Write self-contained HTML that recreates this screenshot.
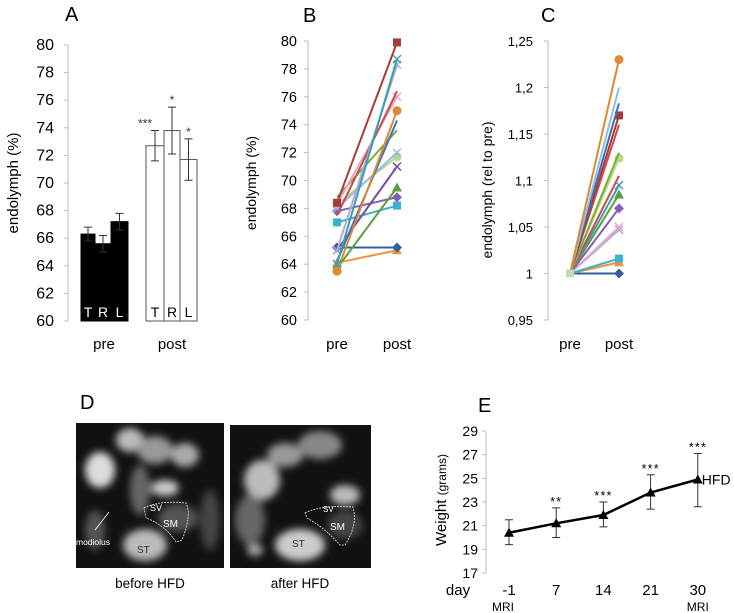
<!DOCTYPE html>
<html><head><meta charset="utf-8"><style>
body{margin:0;background:#fff;}
svg{display:block;font-family:"Liberation Sans",sans-serif;}
</style></head><body>
<svg id="fig" width="734" height="613" viewBox="0 0 734 613">
<defs>
<filter id="blur" x="-20%" y="-20%" width="140%" height="140%"><feGaussianBlur stdDeviation="4"/></filter>
<clipPath id="c1"><rect x="76" y="423" width="148" height="145"/></clipPath>
<clipPath id="c2"><rect x="230" y="425" width="141" height="143"/></clipPath>
</defs>
<g id="gA"></g>
<g id="gB"></g>
<g id="gC"></g>
<g id="gD">
  <text x="80" y="409" font-size="20">D</text>
  <g clip-path="url(#c1)">
    <rect x="76" y="423" width="148" height="145" fill="#111"/>
    <g filter="url(#blur)">
      <ellipse cx="100" cy="470" rx="15" ry="18" fill="#ddd"/>
      <ellipse cx="130" cy="440" rx="14" ry="12" fill="#bbb"/>
      <ellipse cx="155" cy="450" rx="18" ry="14" fill="#999"/>
      <ellipse cx="185" cy="455" rx="14" ry="12" fill="#aaa"/>
      <ellipse cx="165" cy="488" rx="14" ry="8" fill="#ccc"/>
      <ellipse cx="140" cy="490" rx="10" ry="25" fill="#666"/>
      <ellipse cx="145" cy="545" rx="22" ry="16" fill="#bbb"/>
      <ellipse cx="178" cy="518" rx="20" ry="14" fill="#555"/>
      <ellipse cx="95" cy="530" rx="10" ry="20" fill="#555"/>
      <ellipse cx="210" cy="520" rx="10" ry="30" fill="#444"/>
    </g>
    <path d="M144,508 Q160,500 186,503 Q192,515 182,540 L176,542 Q165,525 146,518 Z" fill="none" stroke="#ddd" stroke-dasharray="2,1" stroke-width="0.8"/>
    <text x="150" y="511" font-size="9" fill="#fff">SV</text>
    <text x="163" y="527" font-size="10" fill="#fff">SM</text>
    <text x="137" y="553" font-size="10" fill="#333">ST</text>
    <line x1="95" y1="530" x2="109" y2="512" stroke="#fff" stroke-width="0.8"/>
    <text x="76" y="545" font-size="8.5" fill="#fff">modiolus</text>
  </g>
  <g clip-path="url(#c2)">
    <rect x="230" y="425" width="141" height="143" fill="#111"/>
    <g filter="url(#blur)">
      <ellipse cx="262" cy="480" rx="18" ry="20" fill="#bbb"/>
      <ellipse cx="285" cy="455" rx="18" ry="12" fill="#999"/>
      <ellipse cx="320" cy="445" rx="22" ry="14" fill="#888"/>
      <ellipse cx="345" cy="495" rx="15" ry="10" fill="#bbb"/>
      <ellipse cx="250" cy="520" rx="15" ry="25" fill="#666"/>
      <ellipse cx="300" cy="545" rx="25" ry="16" fill="#ccc"/>
      <ellipse cx="255" cy="550" rx="8" ry="6" fill="#aaa"/>
      <ellipse cx="345" cy="525" rx="18" ry="14" fill="#444"/>
    </g>
    <path d="M305,513 Q320,505 353,507 Q358,525 345,545 L340,545 Q325,528 307,518 Z" fill="none" stroke="#ddd" stroke-dasharray="2,1" stroke-width="0.8"/>
    <text x="323" y="512" font-size="8" fill="#fff">SV</text>
    <text x="330" y="530" font-size="10" fill="#fff">SM</text>
    <text x="292" y="547" font-size="10" fill="#333">ST</text>
  </g>
  <text x="150" y="588" font-size="13.5" text-anchor="middle">before HFD</text>
  <text x="300" y="588" font-size="13.5" text-anchor="middle">after HFD</text>
</g>
<g id="gE"></g>
</svg>
<script>
// Panel A data
const aCats = ['T','R','L','T','R','L'];
const aVals = [66.3, 65.6, 67.2, 72.7, 73.8, 71.7];
const aErrs = [0.5, 0.6, 0.6, 1.1, 1.7, 1.5];
const aStars = ['', '', '', '***', '*', '*'];
const aTicks = [60,62,64,66,68,70,72,74,76,78,80];
// Panel B data
const bPre  = [68.4, 64.0, 65.0, 67.5, 68.3, 63.5, 64.2, 68.8, 68.0, 68.3, 65.0, 63.7, 67.8, 67.0, 65.2, 64.1];
const bPost = [79.9, 78.7, 78.3, 76.4, 76.0, 75.0, 74.3, 73.6, 72.0, 71.7, 71.0, 69.5, 68.8, 68.2, 65.2, 65.0];
const bTicks = [60,62,64,66,68,70,72,74,76,78,80];
// Panel C data
const cPost = [1.23, 1.2, 1.183, 1.17, 1.16, 1.13, 1.124, 1.105, 1.095, 1.085, 1.07, 1.05, 1.047, 1.016, 1.012, 1.0];
const cTicks = [0.95, 1, 1.05, 1.1, 1.15, 1.2, 1.25];
// Panel E data
const eDays = ['-1','7','14','21','30'];
const eVals = [20.4, 21.2, 21.9, 23.8, 24.9];
const eHi = [21.5, 22.5, 23.0, 25.3, 27.1];
const eLo = [19.4, 20.0, 20.9, 22.4, 22.6];
const eStars = ['', '**', '***', '***', '***'];
const eTicks = [17,19,21,23,25,27,29];

const NS='http://www.w3.org/2000/svg';
function mk(parent, tag, attrs, text){
  const e=document.createElementNS(NS,tag);
  for(const k in attrs) e.setAttribute(k,attrs[k]);
  if(text!==undefined) e.textContent=text;
  parent.appendChild(e); return e;
}
const colors=['#a83a3a','#3aa0b0','#b0a8d8','#d04848','#e0a8c8','#e08830','#3a70c0','#78b030','#90c0e0','#b8d890','#7050a0','#58a040','#8060b8','#40b0d0','#3060a0','#f09040'];
const markers=['sq','x','x','none','x','ci','none','none','x','ci','x','tri','di','sq','di','tri'];
function marker(g,t,x,y,c){
  let m;
  if(t==='sq') m=mk(g,'rect',{x:x-4,y:y-4,width:8,height:8,fill:c});
  else if(t==='ci') m=mk(g,'circle',{cx:x,cy:y,r:4.5,fill:c});
  else if(t==='tri') m=mk(g,'path',{d:`M${x},${y-5}L${x+5},${y+4}L${x-5},${y+4}Z`,fill:c});
  else if(t==='di') m=mk(g,'path',{d:`M${x},${y-5}L${x+5},${y}L${x},${y+5}L${x-5},${y}Z`,fill:c});
  else if(t==='x') m=mk(g,'path',{d:`M${x-4},${y-4}L${x+4},${y+4}M${x+4},${y-4}L${x-4},${y+4}`,stroke:c,'stroke-width':1.5});
  else return;
  
  
}
function yAxis(g,x,y0,y1,ticks,fmt,fs,lx){
  const vmin=ticks[0],vmax=ticks[ticks.length-1];
  const sc=v=>y0-(v-vmin)/(vmax-vmin)*(y0-y1);
  const ax=mk(g,'line',{x1:x,y1:y1,x2:x,y2:y0,stroke:'#bbb','stroke-width':1});
  
  
  ticks.forEach(t=>{
    mk(g,'line',{x1:x-4,y1:sc(t),x2:x,y2:sc(t),stroke:'#bbb'});
    const tl=mk(g,'text',{x:lx,y:sc(t)+5,'font-size':fs,'text-anchor':'end'},fmt(t));
    
    
  });
  return sc;
}
// ---- A
(function(){
  const g=document.getElementById('gA');
  mk(g,'text',{x:65,y:21,'font-size':20},'A');
  const sc=yAxis(g,68,321,45,aTicks,t=>t,16,54);
  const yl=mk(g,'text',{x:0,y:0,'font-size':15,'text-anchor':'middle',transform:'translate(18,183) rotate(-90)'},'endolymph (%)');
  
  
  const xs=[81,95,111,146,164,180], ws=[14,16,17,18,16,17];
  aVals.forEach((v,i)=>{
    const pre=i<3;
    const r=mk(g,'rect',{x:xs[i],y:sc(v),width:ws[i],height:sc(60)-sc(v),fill:pre?'#000':'#fff',stroke:pre?'#000':'#555','stroke-width':1});
    
    
    const cx=xs[i]+ws[i]/2;
    mk(g,'path',{d:`M${cx},${sc(v+aErrs[i])}V${sc(v-aErrs[i])}M${cx-4},${sc(v+aErrs[i])}H${cx+4}M${cx-4},${sc(v-aErrs[i])}H${cx+4}`,stroke:'#333','stroke-width':1,fill:'none'});
    mk(g,'text',{x:cx,y:sc(60)-4,'font-size':14,'text-anchor':'middle',fill:pre?'#fff':'#000'},aCats[i]);
    if(aStars[i]) mk(g,'text',{x:aStars[i].length>1?cx-10:cx,y:sc(v+aErrs[i])-3,'font-size':12,'text-anchor':'middle',fill:'#333'},aStars[i]);
  });
  mk(g,'text',{x:104,y:349,'font-size':15,'text-anchor':'middle'},'pre');
  mk(g,'text',{x:172,y:349,'font-size':15,'text-anchor':'middle'},'post');
})();
// ---- B
(function(){
  const g=document.getElementById('gB');
  mk(g,'text',{x:303,y:22,'font-size':20},'B');
  const sc=yAxis(g,308,320,41,bTicks,t=>t,14.5,297);
  const yl=mk(g,'text',{x:0,y:0,'font-size':14,'text-anchor':'middle',transform:'translate(256,183) rotate(-90)'},'endolymph (%)');
  
  
  for(let i=bPre.length-1;i>=0;i--){
    const l=mk(g,'line',{x1:337,y1:sc(bPre[i]),x2:397,y2:sc(bPost[i]),stroke:colors[i],'stroke-width':2});
    
    
    marker(g,markers[i],337,sc(bPre[i]),colors[i]);
    marker(g,markers[i],397,sc(bPost[i]),colors[i]);
  }
  mk(g,'text',{x:337,y:349,'font-size':15,'text-anchor':'middle'},'pre');
  mk(g,'text',{x:397,y:349,'font-size':15,'text-anchor':'middle'},'post');
})();
// ---- C
(function(){
  const g=document.getElementById('gC');
  mk(g,'text',{x:541,y:22,'font-size':20},'C');
  const sc=yAxis(g,548,320,41,cTicks,t=>String(t).replace('.',','),13,533);
  const yl=mk(g,'text',{x:0,y:0,'font-size':14,'text-anchor':'middle',transform:'translate(492,190) rotate(-90)'},'endolymph (rel to pre)');
  
  
  const cc=['#e08830','#90c0e0','#3a70c0','#a83a3a','#d04848','#78b030','#b8d890','#d04848','#3aa0b0','#58a040','#8060b8','#e0a8c8','#b0a8d8','#40b0d0','#f09040','#3060a0'];
  const cm=['ci','none','none','sq','none','none','ci','none','x','tri','di','x','x','sq','tri','di'];
  for(let i=cPost.length-1;i>=0;i--){
    const l=mk(g,'line',{x1:570,y1:sc(1),x2:619,y2:sc(cPost[i]),stroke:cc[i],'stroke-width':2});
    
    
    marker(g,cm[i],619,sc(cPost[i]),cc[i]);
  }
  marker(g,'sq',570,sc(1),'#c8d8b8');
  mk(g,'text',{x:570,y:349,'font-size':15,'text-anchor':'middle'},'pre');
  mk(g,'text',{x:619,y:349,'font-size':15,'text-anchor':'middle'},'post');
})();
// ---- E
(function(){
  const g=document.getElementById('gE');
  mk(g,'text',{x:478,y:412,'font-size':20},'E');
  const sc=yAxis(g,486,573,431,eTicks,t=>t,14,478);
  const yl=mk(g,'text',{x:0,y:0,'font-size':15,'text-anchor':'middle',transform:'translate(446,500) rotate(-90)'});
  
  
  mk(yl,'tspan',{},'Weight ');
  mk(yl,'tspan',{'font-size':12},'(grams)');
  const xs=i=>509+i*47.2;
  let d='';
  eVals.forEach((v,i)=>{d+=(i?'L':'M')+xs(i)+','+sc(v);});
  const ln=mk(g,'path',{d:d,stroke:'#000','stroke-width':2.5,fill:'none'});
  
  
  eVals.forEach((v,i)=>{
    const x=xs(i);
    mk(g,'path',{d:`M${x},${sc(eHi[i])}V${sc(eLo[i])}M${x-4},${sc(eHi[i])}H${x+4}M${x-4},${sc(eLo[i])}H${x+4}`,stroke:'#333',fill:'none'});
    marker(g,'tri',x,sc(v),'#000');
    if(eStars[i]) mk(g,'text',{x:x,y:sc(eHi[i])-2,'font-size':13,'text-anchor':'middle','letter-spacing':'1'},eStars[i]);
    const tl=mk(g,'text',{x:x,y:595,'font-size':15,'text-anchor':'middle'},eDays[i]);
    
    
  });
  mk(g,'text',{x:xs(4)+4,y:sc(eVals[4])+5,'font-size':14},'HFD');
  mk(g,'text',{x:458,y:595,'font-size':15,'text-anchor':'middle'},'day');
  mk(g,'text',{x:xs(0)-6,y:611,'font-size':12,'text-anchor':'middle'},'MRI');
  mk(g,'text',{x:xs(4),y:611,'font-size':12,'text-anchor':'middle'},'MRI');
})();
</script>
</body></html>
